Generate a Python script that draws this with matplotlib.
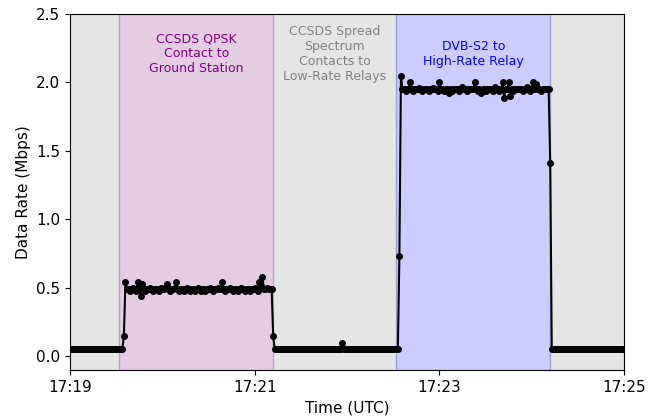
import datetime as dt
import matplotlib
matplotlib.use("Agg")
import matplotlib.pyplot as plt
import matplotlib.dates as mdates
import numpy as np

# data rate samples, one per second starting 17:19:00 (Mbps)
idle_before = [
    0.05, 0.05, 0.05, 0.05, 0.05, 0.05, 0.05, 0.05, 0.05, 0.05,
    0.05, 0.05, 0.05, 0.05, 0.05, 0.05, 0.05, 0.05, 0.05, 0.05,
    0.05, 0.05, 0.05, 0.05, 0.05, 0.05, 0.05, 0.05, 0.05, 0.05,
    0.05, 0.05, 0.05, 0.05, 0.05,
]
qpsk = [
    0.15, 0.54,
    0.49, 0.49, 0.48, 0.49, 0.50, 0.49, 0.48, 0.54, 0.50, 0.44,
    0.53, 0.49, 0.48, 0.49, 0.49, 0.50, 0.49, 0.48, 0.49, 0.49,
    0.49, 0.48, 0.50, 0.49, 0.49, 0.50, 0.53, 0.49, 0.48, 0.49,
    0.49, 0.50, 0.54, 0.49, 0.48, 0.49, 0.49, 0.48, 0.49, 0.50,
    0.49, 0.48, 0.49, 0.49, 0.48, 0.49, 0.50, 0.49, 0.48, 0.49,
    0.49, 0.48, 0.49, 0.49, 0.50, 0.49, 0.48, 0.49, 0.49, 0.50,
    0.49, 0.49, 0.54, 0.49, 0.48, 0.49, 0.49, 0.50, 0.49, 0.48,
    0.49, 0.49, 0.48, 0.49, 0.50, 0.49, 0.49, 0.48, 0.49, 0.49,
    0.48, 0.49, 0.49, 0.50, 0.49, 0.48, 0.54, 0.51, 0.58, 0.49,
    0.49, 0.50, 0.49, 0.49, 0.49,
    0.15,
]
spread = [
    0.05, 0.05, 0.05, 0.05, 0.05, 0.05, 0.05, 0.05, 0.05, 0.05,
    0.05, 0.05, 0.05, 0.05, 0.05, 0.05, 0.05, 0.05, 0.05, 0.05,
    0.05, 0.05, 0.05, 0.05, 0.05, 0.05, 0.05, 0.05, 0.05, 0.05,
    0.05, 0.05, 0.05, 0.05, 0.05, 0.05, 0.05, 0.05, 0.05, 0.05,
    0.05, 0.05, 0.05, 0.05, 0.10, 0.05, 0.05, 0.05, 0.05, 0.05,
    0.05, 0.05, 0.05, 0.05, 0.05, 0.05, 0.05, 0.05, 0.05, 0.05,
    0.05, 0.05, 0.05, 0.05, 0.05, 0.05, 0.05, 0.05, 0.05, 0.05,
    0.05, 0.05, 0.05, 0.05, 0.05, 0.05, 0.05, 0.05, 0.05, 0.05,
    0.05,
]
dvbs2 = [
    0.73, 2.05,
    1.95, 1.95, 1.94, 1.95, 1.95, 2.00, 1.95, 1.94, 1.95,
    1.95, 1.95, 1.96, 1.95, 1.94, 1.95, 1.95, 1.95, 1.94, 1.95,
    1.95, 1.96, 1.95, 1.95, 1.94, 2.00, 1.95, 1.95, 1.94, 1.95,
    1.95, 1.92, 1.95, 1.94, 1.95, 1.95, 1.95, 1.95, 1.94, 1.95,
    1.97, 1.95, 1.95, 1.94, 1.95, 1.95, 1.95, 1.95, 2.00, 1.95,
    1.94, 1.95, 1.92, 1.95, 1.95, 1.94, 1.95, 1.95, 1.95, 1.95,
    1.94, 1.97, 1.95, 1.95, 1.94, 1.95, 2.00, 1.89, 1.95, 1.95,
    2.00, 1.90, 1.95, 1.94, 1.95, 1.95, 1.95, 1.95, 1.95, 1.94,
    1.95, 1.95, 1.97, 1.95, 1.94, 1.95, 2.00, 1.95, 1.99, 1.95,
    1.95, 1.94, 1.95, 1.95, 1.95, 1.95, 1.95,
    1.41,
]
idle_after = [
    0.05, 0.05, 0.05, 0.05, 0.05, 0.05, 0.05, 0.05, 0.05, 0.05,
    0.05, 0.05, 0.05, 0.05, 0.05, 0.05, 0.05, 0.05, 0.05, 0.05,
    0.05, 0.05, 0.05, 0.05, 0.05, 0.05, 0.05, 0.05, 0.05, 0.05,
    0.05, 0.05, 0.05, 0.05, 0.05, 0.05, 0.05, 0.05, 0.05, 0.05,
    0.05, 0.05, 0.05, 0.05, 0.05, 0.05, 0.05, 0.05,
]

# contact windows (seconds after 17:19:00) and labels
windows = [(32, 132), (132, 212), (212, 312)]
labels = ["CCSDS QPSK\nContact to\nGround Station",
          "CCSDS Spread\nSpectrum\nContacts to\nLow-Rate Relays",
          "DVB-S2 to\nHigh-Rate Relay"]
colors = ["purple", "gray", "blue"]
text_colors = ["purple", "gray", "blue"]

start = dt.datetime(2023, 1, 1, 17, 19, 0)
end = dt.datetime(2023, 1, 1, 17, 25, 0)

rate = idle_before + qpsk + spread + dvbs2 + idle_after
times = [start + dt.timedelta(seconds=int(s)) for s in np.arange(len(rate))]

def sec(s):
    return start + dt.timedelta(seconds=s)

fig = plt.figure(figsize=(6.65, 4.19), dpi=100)
ax = fig.add_axes([0.1053, 0.117, 0.8332, 0.8496])

# gray for the whole span, then the coloured contacts on top
ax.axvspan(start, sec(windows[0][0]), color="gray", alpha=0.2)
ax.axvspan(sec(windows[2][1]), end, color="gray", alpha=0.2)
for (a, b), c, lab, tc in zip(windows, colors, labels, text_colors):
    ax.axvspan(sec(a), sec(b), color=c, alpha=0.2)
    ax.text(sec((a + b) / 2), 2.21, lab, ha="center", va="center",
            color=tc, fontsize=9)

ax.plot(times, rate, color="black", marker="o", markersize=4, linewidth=1.5)

ax.set_xlim(start, end)
ax.set_ylim(-0.1, 2.5)
ax.xaxis.set_major_locator(mdates.MinuteLocator(byminute=[19, 21, 23, 25]))
ax.xaxis.set_major_formatter(mdates.DateFormatter("%H:%M"))
ax.tick_params(labelsize=11)
ax.set_xlabel("Time (UTC)", fontsize=11)
ax.set_ylabel("Data Rate (Mbps)", fontsize=11)

fig.savefig("out.png", dpi=100)
